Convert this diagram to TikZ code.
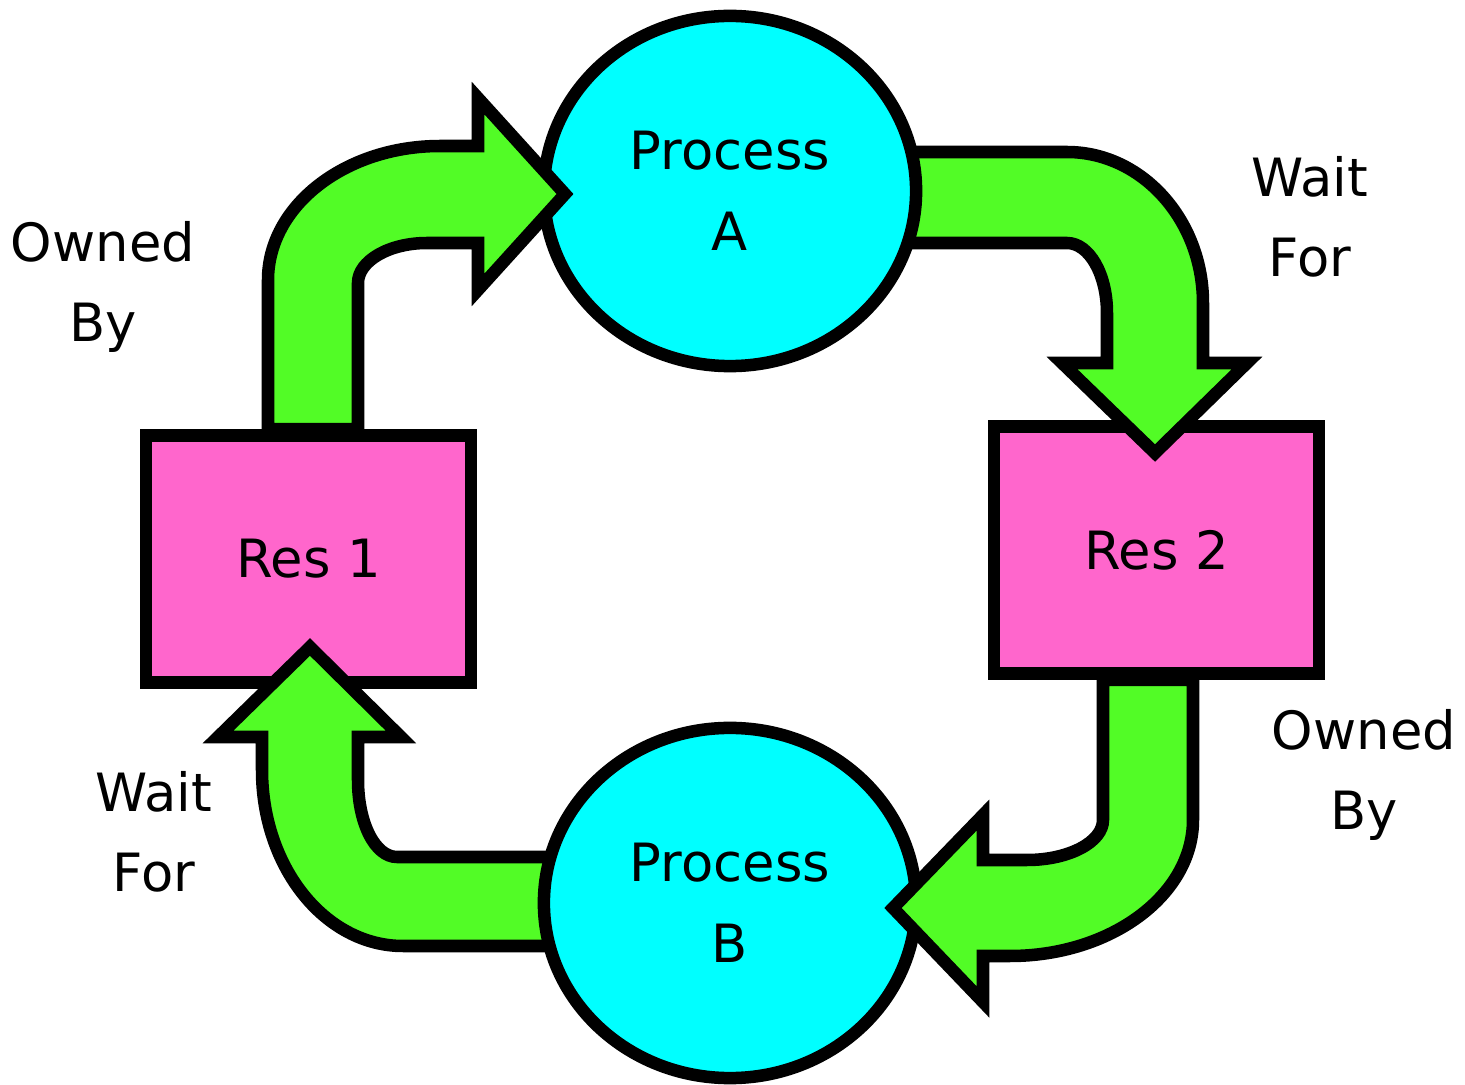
\documentclass[tikz,border=0pt]{standalone}
\usepackage{fontspec}
\setmainfont{DejaVu Sans}
\usepackage{tikz}
\usetikzlibrary{shapes.geometric}

\definecolor{proccyan}{RGB}{0,255,255}
\definecolor{respink}{RGB}{255,102,204}
\definecolor{arrgreen}{RGB}{82,252,38}

\begin{document}
\begin{tikzpicture}[x=0.01cm,y=-0.01cm,
  proc/.style={ellipse,draw=black,fill=proccyan,line width=0.125cm,
    minimum width=3.72cm,minimum height=3.5cm,inner sep=0pt,align=center},
  res/.style={rectangle,draw=black,fill=respink,line width=0.125cm,
    minimum width=3.25cm,minimum height=2.47cm,inner sep=0pt},
  fatarrow/.style={draw=black,fill=arrgreen,line width=0.125cm,miter limit=10},
  lbl/.style={anchor=base,align=center,inner sep=0pt},
  every node/.style={font=\fontsize{15}{23}\selectfont}]
\useasboundingbox (0,0) rectangle (1465,1085);

\node[res] (res1) at (308.5,559) {Res 1};
\node[res] (res2) at (1156.5,550) {Res 2};

% Process A waits for Res 2
\draw[fatarrow] (880,152) -- (1067,152)
  .. controls (1142,152) and (1203,220) .. (1203,303) -- (1203,363)
  -- (1247,363) -- (1155,453) -- (1062,363) -- (1107,363) -- (1107,313)
  .. controls (1107,274) and (1089,243) .. (1067,243) -- (880,243) -- cycle;
% Process B waits for Res 1
\draw[fatarrow] (580,857) -- (397,857)
  .. controls (375,857) and (358,823) .. (358,780) -- (358,737)
  -- (401,737) -- (310,647) -- (218,737) -- (262,737) -- (262,770)
  .. controls (262,867) and (325,946) .. (403,946) -- (580,946) -- cycle;

\node[proc] (procA) at (730,191) {Process\\A};
\node[proc] (procB) at (730,903) {Process\\B};

% Res 1 owned by Process A
\draw[fatarrow] (268,0 |- res1.north) -- (268,280)
  .. controls (268,206) and (345,146) .. (440,146) -- (478,146)
  -- (478,98) -- (565,194) -- (478,290) -- (478,243) -- (427,243)
  .. controls (389,243) and (358,261) .. (358,283) -- (358,0 |- res1.north) -- cycle;
% Res 2 owned by Process B
\draw[fatarrow] (1103,0 |- res2.south) -- (1103,820)
  .. controls (1103,842) and (1069,860) .. (1027,860) -- (983,860)
  -- (983,815) -- (893,908) -- (983,1002) -- (983,956) -- (1010,956)
  .. controls (1111,956) and (1193,895) .. (1193,820) -- (1193,0 |- res2.south) -- cycle;

\node[lbl] (ownA) at (103,342) {Owned\\By};
\node[lbl] (waitA) at (1310,277) {Wait\\For};
\node[lbl] (ownB) at (1364,830) {Owned\\By};
\node[lbl] (waitB) at (154,892) {Wait\\For};
\end{tikzpicture}
\end{document}
